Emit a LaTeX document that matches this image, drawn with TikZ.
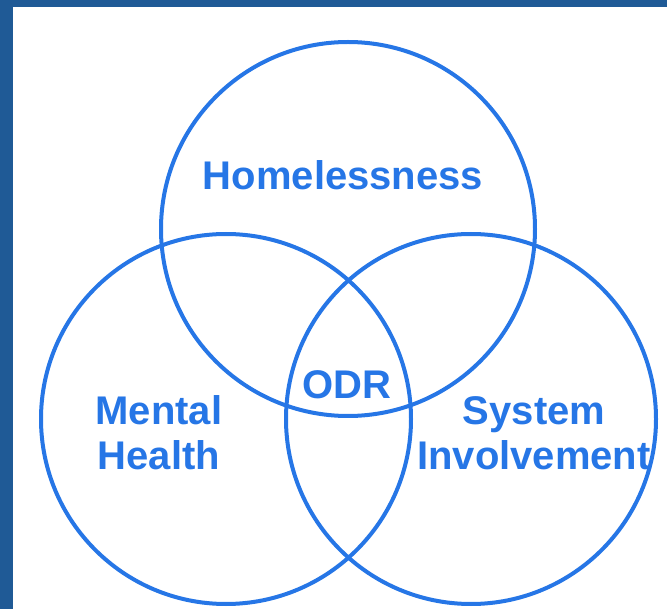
\documentclass[tikz,border=0pt]{standalone}
\usepackage{fontspec}
\setmainfont{Liberation Sans}
\definecolor{frameblue}{HTML}{1F5A96}
\definecolor{vennblue}{HTML}{2676E6}
\begin{document}
\begin{tikzpicture}[x=1pt,y=-1pt,
    ring/.style={draw=vennblue,line width=4pt},
    label/.style={text=vennblue,align=center,inner sep=0pt,
      font=\fontsize{40}{45}\selectfont\bfseries}]
  \useasboundingbox (0,0) rectangle (667,609);
  \fill[frameblue] (0,0) rectangle (667,7);
  \fill[frameblue] (0,0) rectangle (13,609);
    \draw[ring] (348,229) circle (187pt);
    \draw[ring] (226,419) circle (185pt);
    \draw[ring] (471,419) circle (185pt);
  \node[label] (home) at (343,175) {Homelessness};
  \node[label] (odr) at (347,385) {ODR};
  \node[label] (mental) at (159,433) {Mental\\Health};
  \node[label] (system) at (534,433) {System\\Involvement};
\end{tikzpicture}
\end{document}
